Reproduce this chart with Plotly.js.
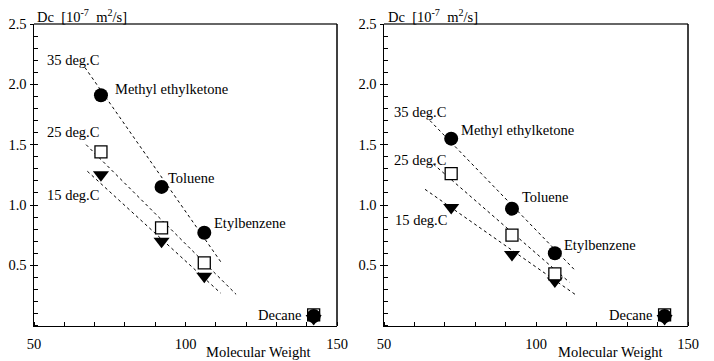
<!DOCTYPE html>
<html><head><meta charset="utf-8">
<script src="https://cdn.plot.ly/plotly-3.0.1.min.js"></script>
<style>html,body{margin:0;padding:0;background:#fff}#c{width:714px;height:361px}</style>
</head><body><div id="c"></div>
<script>
// Molecular weights of the solvents
const compounds = ["Methyl ethylketone", "Toluene", "Etylbenzene", "Decane"];
const molWeight = [72.1, 92.1, 106.2, 142.3];

// Left panel Dc values [1e-7 m2/s]
const leftDc35 = [1.91, 1.15, 0.77, 0.08];
const leftDc25 = [1.44, 0.81, 0.52, 0.09];
const leftDc15 = [1.25, 0.70, 0.41, 0.06];
// Left panel fitted lines (endpoints)
const leftFitX35 = [66.8, 111.9], leftFitY35 = [2.14, 0.52];
const leftFitX25 = [67.2, 116.7], leftFitY25 = [1.50, 0.26];
const leftFitX15 = [67.6, 111.6], leftFitY15 = [1.28, 0.27];

// Right panel Dc values
const rightDc35 = [1.55, 0.97, 0.60, 0.08];
const rightDc25 = [1.26, 0.75, 0.43, 0.09];
const rightDc15 = [0.98, 0.59, 0.37, 0.06];
const rightFitX35 = [65.1, 112.8], rightFitY35 = [1.70, 0.46];
const rightFitX25 = [66.2, 111.0], rightFitY25 = [1.34, 0.36];
const rightFitX15 = [63.5, 113.4], rightFitY15 = [1.13, 0.25];

const tempLabels = ["35 deg.C", "25 deg.C", "15 deg.C"];
const xTicks = [50, 100, 150];
const yTicks = [0.5, 1.0, 1.5, 2.0, 2.5];
const yTickText = ["0.5", "1.0", "1.5", "2.0", "2.5"];

const FONT = "Liberation Serif";
const FS = 14.5;

function fit(x, y, xa, ya) {
  return {x: x, y: y, xaxis: xa, yaxis: ya, mode: "lines", type: "scatter",
    line: {color: "#000", width: 1, dash: "dot"}, hoverinfo: "skip", showlegend: false};
}
function pts(y, sym, xa, ya) {
  const open = sym === "square";
  return {x: molWeight, y: y, xaxis: xa, yaxis: ya, mode: "markers", type: "scatter", showlegend: false,
    marker: {symbol: sym, size: open ? 12 : 14, color: open ? "#fff" : "#000",
      line: {color: "#000", width: open ? 1.3 : 0}}};
}

const data = [
  fit(leftFitX35, leftFitY35, "x", "y"), fit(leftFitX25, leftFitY25, "x", "y"), fit(leftFitX15, leftFitY15, "x", "y"),
  pts(leftDc15, "triangle-down", "x", "y"), pts(leftDc25, "square", "x", "y"), pts(leftDc35, "circle", "x", "y"),
  fit(rightFitX35, rightFitY35, "x2", "y2"), fit(rightFitX25, rightFitY25, "x2", "y2"), fit(rightFitX15, rightFitY15, "x2", "y2"),
  pts(rightDc15, "triangle-down", "x2", "y2"), pts(rightDc25, "square", "x2", "y2"), pts(rightDc35, "circle", "x2", "y2")
];

function xax(domain, anchor) {
  return {domain: domain, anchor: anchor, range: [50, 150], tickvals: xTicks, ticks: "",
    showline: true, linecolor: "#000", linewidth: 1.5, showgrid: false, zeroline: false,
    ticklabelstandoff: 4, tickfont: {family: FONT, size: FS, color: "#000"},
    minor: {dtick: 10, tick0: 50, ticks: "inside", ticklen: 4, tickcolor: "#000", tickwidth: 1, showgrid: false}};
}
function yax(domain, anchor) {
  return {domain: domain, anchor: anchor, range: [0, 2.5], tickvals: yTicks, ticktext: yTickText,
    ticks: "outside", ticklen: 3, tickcolor: "#000", tickwidth: 1,
    showline: true, linecolor: "#000", linewidth: 1.5, showgrid: false, zeroline: false,
    ticklabelstandoff: 0, tickfont: {family: FONT, size: FS, color: "#000"},
    minor: {dtick: 0.1, tick0: 0, ticks: "inside", ticklen: 4, tickcolor: "#000", tickwidth: 1, showgrid: false}};
}

const yDom = [1 - 325.7 / 361, 1 - 24 / 361];
const xDom1 = [34 / 714, 337 / 714];
const xDom2 = [384 / 714, 688 / 714];

function ann(x, y, text, xref, yref, xanchor) {
  return {x: x, y: y, xref: xref, yref: yref, text: text, showarrow: false, xanchor: xanchor || "left",
    yanchor: "middle", font: {family: FONT, size: FS, color: "#000"}};
}

const annotations = [
  // left panel labels
  ann(45 / 714, 1 - 60 / 361, tempLabels[0], "paper", "paper"),
  ann(45 / 714, 1 - 132 / 361, tempLabels[1], "paper", "paper"),
  ann(45 / 714, 1 - 195 / 361, tempLabels[2], "paper", "paper"),
  ann(molWeight[0] + 4, leftDc35[0] + 0.05, compounds[0], "x", "y"),
  ann(molWeight[1] + 1.5, leftDc35[1] + 0.07, compounds[1], "x", "y"),
  ann(molWeight[2] + 2.5, leftDc35[2] + 0.08, compounds[2], "x", "y"),
  ann(molWeight[3] - 3.5, 0.09, compounds[3], "x", "y", "right"),
  // right panel labels
  ann(392 / 714, 1 - 112 / 361, tempLabels[0], "paper", "paper"),
  ann(392 / 714, 1 - 160 / 361, tempLabels[1], "paper", "paper"),
  ann(393 / 714, 1 - 220 / 361, tempLabels[2], "paper", "paper"),
  ann(molWeight[0] + 2.7, rightDc35[0] + 0.07, compounds[0], "x2", "y2"),
  ann(molWeight[1] + 2.7, rightDc35[1] + 0.1, compounds[1], "x2", "y2"),
  ann(molWeight[2] + 2.5, rightDc35[2] + 0.07, compounds[2], "x2", "y2"),
  ann(molWeight[3] - 3.5, 0.09, compounds[3], "x2", "y2", "right"),
  // axis titles
  ann(35 / 714, 1 - 16 / 361, "Dc&nbsp; [10<sup>-7</sup>&nbsp; m<sup>2</sup>/s]", "paper", "paper"),
  ann(386 / 714, 1 - 16 / 361, "Dc&nbsp; [10<sup>-7</sup>&nbsp; m<sup>2</sup>/s]", "paper", "paper"),
  ann(258 / 714, 1 - 352 / 361, "Molecular Weight", "paper", "paper", "center"),
  ann(610 / 714, 1 - 352 / 361, "Molecular Weight", "paper", "paper", "center")
];

const shapes = [];
[xDom1, xDom2].forEach(function (dom) {
  shapes.push({type: "line", xref: "paper", yref: "paper", x0: dom[0], x1: dom[1], y0: yDom[1], y1: yDom[1],
    line: {color: "#666", width: 2}});
  shapes.push({type: "line", xref: "paper", yref: "paper", x0: dom[1], x1: dom[1], y0: yDom[0], y1: yDom[1],
    line: {color: "#000", width: 1.5}});
});

const layout = {
  width: 714, height: 361, margin: {l: 0, r: 0, t: 0, b: 0},
  paper_bgcolor: "#fff", plot_bgcolor: "#fff", showlegend: false,
  font: {family: FONT, size: FS, color: "#000"},
  xaxis: xax(xDom1, "y"), yaxis: yax(yDom, "x"),
  xaxis2: xax(xDom2, "y2"), yaxis2: yax(yDom, "x2"),
  annotations: annotations, shapes: shapes
};

Plotly.newPlot("c", data, layout, {displayModeBar: false, staticPlot: true});
</script></body></html>
